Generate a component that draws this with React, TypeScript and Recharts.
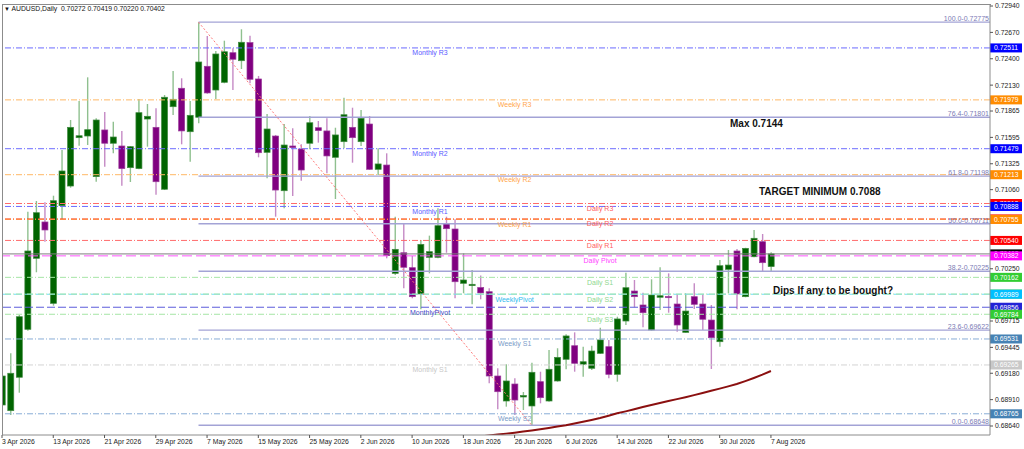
import React from "react";
import {
  ComposedChart,
  Bar,
  Line,
  XAxis,
  YAxis,
  ReferenceLine,
  ReferenceDot,
} from "recharts";

const FONT = "'Liberation Sans', Arial, sans-serif";

// x-axis labels, one every 6 daily bars
const TICK_BARS = [0, 6, 12, 18, 24, 30, 36, 42, 48, 54, 60, 66, 72, 78, 84, 90];
const TICK_LABELS = [
  "3 Apr 2026", "13 Apr 2026", "21 Apr 2026", "29 Apr 2026", "7 May 2026",
  "15 May 2026", "25 May 2026", "2 Jun 2026", "10 Jun 2026", "18 Jun 2026",
  "26 Jun 2026", "6 Jul 2026", "14 Jul 2026", "22 Jul 2026", "30 Jul 2026",
  "7 Aug 2026",
];

const Y_TICKS = [
  0.7294, 0.7267, 0.724, 0.7213, 0.71865, 0.71595, 0.71325, 0.7106,
  0.7025, 0.69715, 0.69445, 0.6918, 0.6891, 0.6864,
];

// daily candles AUDUSD
const OPEN = [
  0.68855, 0.68797, 0.69139, 0.6963, 0.70357, 0.70729, 0.69896, 0.70896, 0.71097, 0.71592,
  0.71609, 0.71193, 0.71671, 0.71535, 0.71507, 0.71285, 0.71275, 0.71783, 0.71698, 0.71064,
  0.71909, 0.72098, 0.71653, 0.71801, 0.72323, 0.7208, 0.72159, 0.72462, 0.7238, 0.72565,
  0.72193, 0.71442, 0.71609, 0.71049, 0.71507, 0.71476, 0.71535, 0.71694, 0.71661, 0.71391,
  0.71551, 0.71698, 0.71551, 0.71732, 0.71268, 0.71312, 0.70203, 0.70414, 0.70261, 0.69992,
  0.70367, 0.70367, 0.70715, 0.70657, 0.70101, 0.70077, 0.70058, 0.70015, 0.69152, 0.68896,
  0.6907, 0.68937, 0.68845, 0.69094, 0.68896, 0.69101, 0.69323, 0.69462, 0.69272, 0.69231,
  0.69384, 0.69452, 0.69169, 0.69715, 0.70022, 0.69879, 0.69623, 0.69958, 0.69966, 0.69889,
  0.69599, 0.69964, 0.69889, 0.69725, 0.69503, 0.70244, 0.70432, 0.69964, 0.70373, 0.70527,
  0.70272,
];
const HIGH = [
  0.69193, 0.69384, 0.69777, 0.70834, 0.70944, 0.7093, 0.70998, 0.71466, 0.71773, 0.71968,
  0.7221, 0.7179, 0.71855, 0.71756, 0.71661, 0.71507, 0.71988, 0.71937, 0.71893, 0.72029,
  0.72275, 0.722, 0.71968, 0.72775, 0.72633, 0.7248, 0.72585, 0.72507, 0.72702, 0.72636,
  0.72224, 0.71835, 0.7162, 0.71732, 0.71688, 0.71524, 0.71814, 0.71763, 0.7179, 0.71694,
  0.72001, 0.71899, 0.71876, 0.71814, 0.71483, 0.71432, 0.70783, 0.70708, 0.70381, 0.70544,
  0.70589, 0.70869, 0.70783, 0.70756, 0.70408, 0.70237, 0.70181, 0.7005, 0.69231, 0.69272,
  0.69128, 0.68988, 0.69288, 0.69196, 0.69418, 0.69436, 0.69579, 0.69599, 0.69452, 0.69462,
  0.69646, 0.69521, 0.69759, 0.7021, 0.70135, 0.70005, 0.70142, 0.70265, 0.70203, 0.69992,
  0.69999, 0.70101, 0.69992, 0.69879, 0.7034, 0.70442, 0.70452, 0.70465, 0.70647, 0.70606,
  0.70419,
];
const LOW = [
  0.68804, 0.68753, 0.68981, 0.69616, 0.70214, 0.70527, 0.69872, 0.7076, 0.7108, 0.7151,
  0.71517, 0.71141, 0.71295, 0.71432, 0.711, 0.71138, 0.71268, 0.715, 0.71008, 0.71056,
  0.71824, 0.71524, 0.71346, 0.71739, 0.72043, 0.71988, 0.72149, 0.7208, 0.72295, 0.72149,
  0.71391, 0.71176, 0.70783, 0.70869, 0.70995, 0.71152, 0.71473, 0.71541, 0.71227, 0.70964,
  0.71483, 0.71336, 0.71507, 0.71261, 0.7121, 0.70357, 0.70186, 0.7005, 0.69948, 0.69835,
  0.70203, 0.70357, 0.70414, 0.69948, 0.69999, 0.69886, 0.69937, 0.69077, 0.68811, 0.68838,
  0.68753, 0.68804, 0.68648, 0.68872, 0.68889, 0.69094, 0.69221, 0.69196, 0.69145, 0.69213,
  0.69377, 0.69128, 0.69094, 0.69674, 0.69855, 0.69651, 0.69616, 0.69828, 0.698, 0.69606,
  0.69595, 0.69838, 0.69623, 0.69224, 0.69452, 0.69999, 0.69835, 0.69958, 0.70367, 0.7022,
  0.7022,
];
const CLOSE = [
  0.69152, 0.6918, 0.69759, 0.70432, 0.70824, 0.70647, 0.70947, 0.71251, 0.71698, 0.71612,
  0.71674, 0.71773, 0.71535, 0.71599, 0.71275, 0.715, 0.71848, 0.71811, 0.71141, 0.72006,
  0.71985, 0.71661, 0.71821, 0.72367, 0.7205, 0.72449, 0.72472, 0.72395, 0.72569, 0.7219,
  0.71438, 0.71681, 0.71056, 0.71517, 0.7149, 0.71261, 0.71745, 0.71664, 0.71405, 0.7162,
  0.71827, 0.71592, 0.7179, 0.71268, 0.71323, 0.70384, 0.70449, 0.70265, 0.69964, 0.705,
  0.70425, 0.70691, 0.7066, 0.70117, 0.70135, 0.70091, 0.70002, 0.69152, 0.68991, 0.69101,
  0.68906, 0.68952, 0.6919, 0.6893, 0.69221, 0.69343, 0.69562, 0.69282, 0.69298, 0.69408,
  0.69521, 0.69169, 0.69736, 0.70056, 0.69964, 0.698, 0.69981, 0.69974, 0.69961, 0.69674,
  0.69817, 0.69886, 0.69733, 0.69544, 0.70281, 0.70288, 0.69992, 0.70459, 0.70562, 0.70312,
  0.70402,
];

// moving average, starts at bar 55
const MA_FROM = 55;
const MA = [
  0.6852, 0.68532, 0.68544, 0.68553, 0.68562, 0.68572, 0.68583, 0.68595, 0.68607, 0.6862,
  0.68634, 0.68648, 0.68665, 0.68683, 0.68702, 0.68722, 0.68745, 0.6877, 0.6879, 0.68812,
  0.68835, 0.68855, 0.68875, 0.68895, 0.68915, 0.68935, 0.68956, 0.68978, 0.69, 0.69023,
  0.69046, 0.6907, 0.691, 0.69132, 0.69166, 0.69203,
];

const PIVOT_LABELS = [
  "Monthly R3", "Monthly R2", "Monthly R1", "MonthlyPivot", "Monthly S1",
  "Weekly R3", "Weekly R2", "Weekly R1", "WeeklyPivot", "Weekly S1", "Weekly S2",
  "Daily R3", "Daily R2", "Daily R1", "Daily Pivot", "Daily S1", "Daily S2", "Daily S3",
];
const PIVOT_VALUES = [
  0.72511, 0.71479, 0.70888, 0.69856, 0.69265,
  0.71979, 0.71213, 0.70755, 0.69989, 0.69531, 0.68765,
  0.70918, 0.7076, 0.7054, 0.70382, 0.70162, 0.69991, 0.69784,
];

const FIB_PCTS = ["100.0", "76.4", "61.8", "50.0", "38.2", "23.6", "0.0"];
const FIB_VALUES = [0.72775, 0.71801, 0.71198, 0.70711, 0.70225, 0.69622, 0.68648];
const FIB_HIGH_BAR = 23;
const FIB_LOW_BAR = 62;

const LAST_PRICE = 0.70402;

const BOX_VALUES = [
  0.72511, 0.71979, 0.71479, 0.71213, 0.70918, 0.70888, 0.7076, 0.70755, 0.7054,
  0.70402, 0.70382, 0.70162, 0.69991, 0.69989, 0.69856, 0.69784, 0.69531, 0.69265, 0.68765,
];
const BOX_COLORS = [
  "#0000ff", "#ff8c00", "#0000ff", "#ff8c00", "#ff0000", "#0000ff", "#ff0000", "#ff8c00", "#ff0000",
  "#000000", "#ff00ff", "#32cd32", "#32cd32", "#00bfff", "#2323d6", "#32cd32", "#4682b4", "#c8c8c8", "#4682b4",
];

const X_MAX = 115.64;
const Y_MIN = 0.685479;
const Y_MAX = 0.729607;

const data = OPEN.map((open, i) => ({
  i,
  open,
  high: HIGH[i],
  low: LOW[i],
  close: CLOSE[i],
  ma: i >= MA_FROM ? MA[i - MA_FROM] : undefined,
}));

function pivotStyle(name: string) {
  const daily = name.startsWith("Daily");
  const weekly = name.startsWith("Weekly");
  const pivot = name.includes("Pivot");
  const support = / S\d/.test(name);
  let stroke = "#6b6bff";
  let text = "#5a5aff";
  if (daily) {
    if (pivot) { stroke = "#ff55ff"; text = "#ff44ff"; }
    else if (support) { stroke = "#a6e6a6"; text = "#8fd88f"; }
    else if (name === "Daily R2") { stroke = "#ff4a1a"; text = "#ff6060"; }
    else { stroke = "#ff6b6b"; text = "#ff6060"; }
  } else if (weekly) {
    if (pivot) { stroke = "#6fdcf8"; text = "#33bbee"; }
    else if (support) { stroke = "#88acd6"; text = "#7a9cc8"; }
    else { stroke = "#ffb866"; text = "#ffa64d"; }
  } else {
    if (pivot) { stroke = "#5b5bdb"; text = "#4646c8"; }
    else if (support) { stroke = "#d4d4d4"; text = "#c8c8c8"; }
  }
  const dash = pivot ? (daily ? "10 4" : "8 3") : "6 2 1 2";
  const labelBar = daily ? 70 : weekly ? 60 : 50.1;
  return { stroke, text, dash, labelBar };
}

function Candle(props: any) {
  const { x, y, width, height, payload } = props;
  if (x == null || y == null) return null;
  const { open, close, high, low } = payload;
  const top = Math.min(y, y + height);
  const h = Math.abs(height);
  const py = (v: number) => top + ((high - v) / (high - low)) * h;
  const up = close >= open;
  const cx = x + width / 2;
  const bTop = py(Math.max(open, close));
  const bBot = py(Math.min(open, close));
  const bw = width - 1;
  return (
    <g>
      <line x1={cx} x2={cx} y1={top} y2={top + h} stroke={up ? "#8fc08f" : "#c58ac5"} strokeWidth={1.4} />
      <rect
        x={cx - bw / 2}
        y={bTop}
        width={bw}
        height={Math.max(bBot - bTop, 1.2)}
        fill={up ? "#006400" : "#800080"}
        stroke={up ? "#3f8a3f" : "#9b3c9b"}
        strokeWidth={0.7}
      />
    </g>
  );
}

function XTick(props: any) {
  const { x, y, payload } = props;
  const idx = TICK_BARS.indexOf(payload.value);
  return (
    <text x={x} y={y + 2} dominantBaseline="central" textAnchor="start" fontSize={6.8} fill="#222" fontFamily={FONT}>
      {TICK_LABELS[idx]}
    </text>
  );
}

function priceBox(value: number, color: string) {
  return (props: any) => {
    const vb = props.viewBox || {};
    const right = (vb.x ?? 0) + (vb.width ?? 0);
    const y = vb.y ?? 0;
    return (
      <g>
        <rect x={right} y={y - 4.5} width={32} height={9} fill={color} />
        <text x={right + 4} y={y} dominantBaseline="central" fontSize={6.8} fill="#fff" fontFamily={FONT}>
          {value.toFixed(5)}
        </text>
      </g>
    );
  };
}

function pivotText(name: string, color: string) {
  return (props: any) => {
    const vb = props.viewBox || {};
    return (
      <text
        x={vb.x}
        y={(vb.y ?? 0) + 5}
        textAnchor="middle"
        dominantBaseline="central"
        fontSize={7}
        fill={color}
        fontFamily={FONT}
      >
        {name}
      </text>
    );
  };
}

const noteStyle: React.CSSProperties = {
  position: "absolute",
  fontFamily: FONT,
  fontWeight: "bold",
  fontSize: 10,
  color: "#111",
  lineHeight: "12px",
  whiteSpace: "nowrap",
};

export default function App() {
  return (
    <div style={{ position: "relative", width: 1024, height: 449, background: "#fff", overflow: "hidden" }}>
      <style>{"body{margin:0}"}</style>
      <ComposedChart
        width={1024}
        height={449}
        data={data}
        margin={{ top: 4, right: 0, bottom: 0, left: 2 }}
      >
        <XAxis
          dataKey="i"
          type="number"
          domain={[0, X_MAX]}
          allowDataOverflow
          ticks={TICK_BARS}
          interval={0}
          height={14}
          tickSize={3}
          tickMargin={1}
          tickLine={{ stroke: "#555" }}
          axisLine={{ stroke: "#8c8c8c" }}
          tick={(p: any) => <XTick {...p} />}
        />
        <YAxis
          orientation="right"
          type="number"
          domain={[Y_MIN, Y_MAX]}
          allowDataOverflow
          ticks={Y_TICKS}
          interval={0}
          width={34}
          tickSize={3}
          tickMargin={2}
          tickLine={{ stroke: "#555" }}
          axisLine={{ stroke: "#8c8c8c" }}
          tick={{ fontSize: 6.8, fill: "#222", fontFamily: FONT }}
          tickFormatter={(v: number) => v.toFixed(5)}
        />

        {PIVOT_LABELS.map((name, k) => {
          const s = pivotStyle(name);
          return (
            <ReferenceLine
              key={"pl" + name}
              y={PIVOT_VALUES[k]}
              stroke={s.stroke}
              strokeDasharray={s.dash}
              strokeWidth={1}
            />
          );
        })}

        {FIB_VALUES.map((v, k) => (
          <ReferenceLine
            key={"fib" + k}
            segment={[{ x: FIB_HIGH_BAR, y: v }, { x: X_MAX, y: v }]}
            stroke="#a3a3d6"
            strokeWidth={1.4}
            label={{
              value: `${FIB_PCTS[k]}-${v.toFixed(5)}`,
              position: "insideBottomRight",
              offset: 1,
              fill: "#7b7bb5",
              fontSize: 7,
              fontFamily: FONT,
            }}
          />
        ))}

        <ReferenceLine
          segment={[
            { x: FIB_HIGH_BAR, y: FIB_VALUES[0] },
            { x: FIB_LOW_BAR, y: FIB_VALUES[FIB_VALUES.length - 1] },
          ]}
          stroke="#ff7a7a"
          strokeDasharray="2 2"
          strokeWidth={1}
        />

        <ReferenceLine y={LAST_PRICE} stroke="#7f7f7f" strokeWidth={1} />

        {PIVOT_LABELS.map((name, k) => {
          const s = pivotStyle(name);
          return (
            <ReferenceDot
              key={"pt" + name}
              x={s.labelBar}
              y={PIVOT_VALUES[k]}
              r={0}
              fill="none"
              stroke="none"
              label={pivotText(name, s.text)}
            />
          );
        })}

        <Line
          dataKey="ma"
          stroke="#8b1010"
          strokeWidth={2}
          dot={false}
          activeDot={false}
          isAnimationActive={false}
        />

        <Bar
          dataKey={(d: any) => [d.low, d.high]}
          barSize={7}
          shape={(p: any) => <Candle {...p} />}
          isAnimationActive={false}
        />

        {BOX_VALUES.map((v, k) => (
          <ReferenceLine
            key={"box" + k}
            y={v}
            stroke="none"
            label={priceBox(v, BOX_COLORS[k])}
          />
        ))}
      </ComposedChart>

      <div
        style={{
          position: "absolute",
          left: 2,
          top: 4,
          width: 989,
          height: 432,
          boxSizing: "border-box",
          borderTop: "1px solid #8c8c8c",
          borderLeft: "1px solid #8c8c8c",
          pointerEvents: "none",
        }}
      />
      <div
        style={{
          position: "absolute",
          left: 4,
          top: 4,
          fontFamily: FONT,
          fontSize: 6.8,
          color: "#111",
          whiteSpace: "nowrap",
          lineHeight: "9px",
        }}
      >
        <span style={{ fontSize: 6 }}>▼</span> AUDUSD,Daily&nbsp; 0.70272 0.70419 0.70220 0.70402
      </div>
      <div style={{ ...noteStyle, left: 730, top: 118 }}>Max 0.7144</div>
      <div style={{ ...noteStyle, left: 759, top: 186 }}>TARGET MINIMUM 0.7088</div>
      <div style={{ ...noteStyle, left: 773, top: 284.5 }}>Dips If any to be bought?</div>
    </div>
  );
}
